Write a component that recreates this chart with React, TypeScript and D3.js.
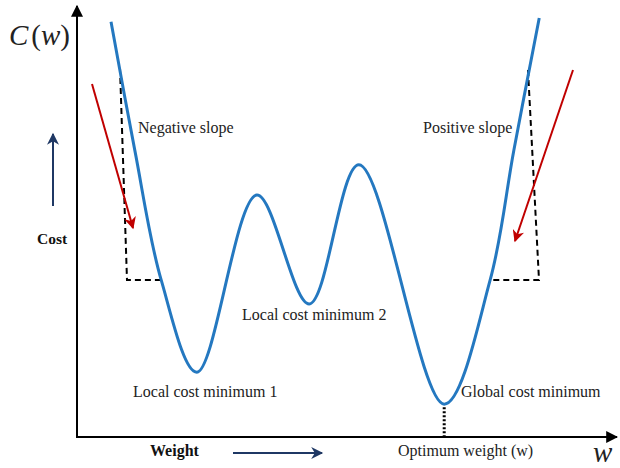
import React from "react";
import * as d3 from "d3";

// Curve sample points (weight, cost) in arbitrary units
const weights = [0.63, 1.07, 1.56, 2.22, 3.33, 4.30, 5.22, 6.80, 7.65, 8.09, 8.56];
const costs = [9.61, 6.64, 3.63, 1.50, 5.60, 3.08, 6.30, 0.76, 3.63, 6.64, 9.70];

const labels = [
  "Negative slope",
  "Positive slope",
  "Local cost minimum 1",
  "Local cost minimum 2",
  "Global cost minimum",
  "Optimum weight (w)",
];

const W = 620;
const H = 468;

export default function App() {
  const x = d3.scaleLinear().domain([0, 10]).range([77, 617]);
  const y = d3.scaleLinear().domain([0, 10]).range([437, 5]);
  const pts: [number, number][] = weights.map((w, i) => [w, costs[i]]);
  const line = d3
    .line<[number, number]>()
    .x((d) => x(d[0]))
    .y((d) => y(d[1]))
    .curve(d3.curveCatmullRom.alpha(0.5));

  const serif = "'Liberation Serif', 'Times New Roman', serif";
  const gmin = pts[7];

  return (
    <svg
      width={W}
      height={H}
      style={{ position: "absolute", left: 0, top: 0, background: "#fff" }}
      fontFamily={serif}
    >
      <defs>
        <marker id="ax" viewBox="0 0 10 10" refX="9" refY="5" markerWidth="6" markerHeight="6" orient="auto" markerUnits="strokeWidth">
          <path d="M0,0 L10,5 L0,10 z" fill="#000" />
        </marker>
        <marker id="red" viewBox="0 0 10 10" refX="9" refY="5" markerWidth="6.5" markerHeight="6" orient="auto" markerUnits="strokeWidth">
          <path d="M0,0 L10,5 L0,10 L3,5 z" fill="#c00000" />
        </marker>
        <marker id="navy" viewBox="0 0 10 10" refX="9" refY="5" markerWidth="6.5" markerHeight="6" orient="auto" markerUnits="strokeWidth">
          <path d="M0,0 L10,5 L0,10 L3,5 z" fill="#1f3864" />
        </marker>
      </defs>

      {/* axes */}
      <line x1={77} y1={437} x2={77} y2={6} stroke="#000" strokeWidth={2} markerEnd="url(#ax)" />
      <line x1={76} y1={437} x2={617} y2={437} stroke="#000" strokeWidth={2} markerEnd="url(#ax)" />

      {/* dashed slope triangles */}
      <polyline points="120,68 127,280 160,280" fill="none" stroke="#000" strokeWidth={2} strokeDasharray="6,4" />
      <polyline points="528,70 539,280 490,280" fill="none" stroke="#000" strokeWidth={2} strokeDasharray="6,4" />

      {/* dotted optimum line */}
      <line x1={x(gmin[0])} y1={y(gmin[1]) + 3} x2={x(gmin[0])} y2={436} stroke="#000" strokeWidth={3} strokeDasharray="2,2" />

      {/* curve */}
      <path d={line(pts) || ""} fill="none" stroke="#2478c0" strokeWidth={3} />

      {/* red gradient arrows */}
      <line x1={92} y1={84} x2={133} y2={228} stroke="#c00000" strokeWidth={2} markerEnd="url(#red)" />
      <line x1={573} y1={70} x2={515} y2={241} stroke="#c00000" strokeWidth={2} markerEnd="url(#red)" />

      {/* navy arrows */}
      <line x1={53} y1={206} x2={53} y2={134} stroke="#1f3864" strokeWidth={2} markerEnd="url(#navy)" />
      <line x1={233} y1={453} x2={322} y2={453} stroke="#1f3864" strokeWidth={2} markerEnd="url(#navy)" />

      {/* texts */}
      <text x={9} y={45} fontSize={29} fill="#222">
        <tspan fontStyle="italic">C</tspan>
        <tspan dx={3}>(</tspan>
        <tspan fontStyle="italic">w</tspan>
        <tspan>)</tspan>
      </text>
      <text x={593} y={462} fontSize={29} fontStyle="italic" fill="#222">w</text>
      <text x={37} y={244} fontSize={15.5} fontWeight="bold" fill="#111">Cost</text>
      <text x={150} y={456} fontSize={16} fontWeight="bold" fill="#111">Weight</text>
      <text x={138} y={133} fontSize={16} fill="#222">{labels[0]}</text>
      <text x={423} y={133} fontSize={16} fill="#222">{labels[1]}</text>
      <text x={133} y={397} fontSize={16} fill="#222">{labels[2]}</text>
      <text x={242} y={320} fontSize={16} fill="#222">{labels[3]}</text>
      <text x={461} y={397} fontSize={16} fill="#222">{labels[4]}</text>
      <text x={398} y={456} fontSize={16} fill="#222">{labels[5]}</text>
    </svg>
  );
}
